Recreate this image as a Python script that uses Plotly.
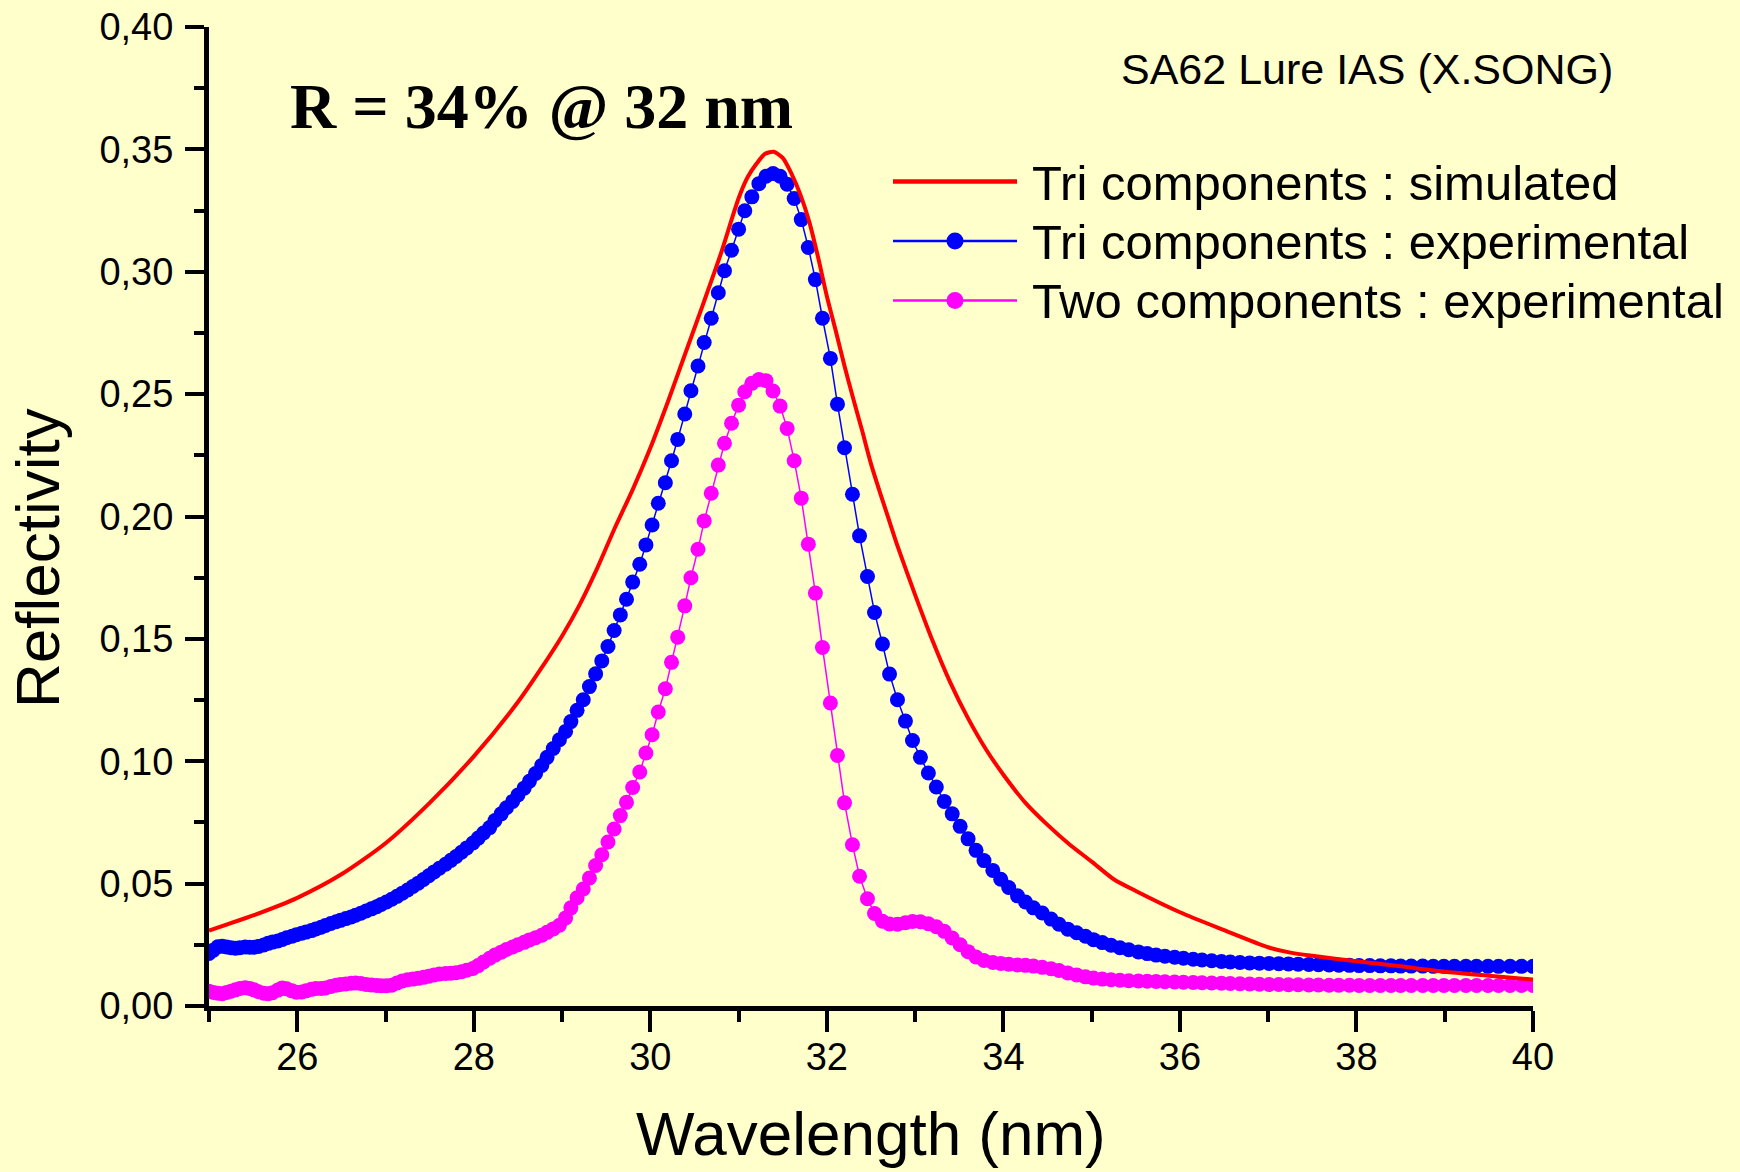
import plotly.graph_objects as go

# ---------------- data ----------------
# measured wavelengths (nm) of the experimental points
wavelength_nm = [
    25.00, 25.05, 25.10, 25.15, 25.20, 25.25, 25.30, 25.35, 25.41, 25.46,
    25.51, 25.56, 25.62, 25.67, 25.72, 25.78, 25.83, 25.88, 25.94, 25.99,
    26.05, 26.10, 26.16, 26.21, 26.27, 26.32, 26.38, 26.44, 26.49, 26.55,
    26.61, 26.66, 26.72, 26.78, 26.84, 26.90, 26.95, 27.01, 27.07, 27.13,
    27.19, 27.25, 27.31, 27.37, 27.43, 27.49, 27.55, 27.61, 27.68, 27.74,
    27.80, 27.86, 27.92, 27.99, 28.05, 28.11, 28.18, 28.24, 28.31, 28.37,
    28.44, 28.50, 28.57, 28.63, 28.70, 28.77, 28.83, 28.90, 28.97, 29.04,
    29.10, 29.17, 29.24, 29.31, 29.38, 29.45, 29.52, 29.59, 29.66, 29.73,
    29.80, 29.88, 29.95, 30.02, 30.09, 30.17, 30.24, 30.31, 30.39, 30.46,
    30.54, 30.61, 30.69, 30.77, 30.84, 30.92, 31.00, 31.07, 31.15, 31.23,
    31.31, 31.39, 31.47, 31.55, 31.63, 31.71, 31.79, 31.87, 31.95, 32.04,
    32.12, 32.20, 32.29, 32.37, 32.46, 32.54, 32.63, 32.71, 32.80, 32.89,
    32.97, 33.06, 33.15, 33.24, 33.33, 33.42, 33.51, 33.60, 33.69, 33.78,
    33.88, 33.97, 34.06, 34.16, 34.25, 34.34, 34.44, 34.54, 34.63, 34.73,
    34.83, 34.93, 35.02, 35.12, 35.22, 35.32, 35.42, 35.53, 35.63, 35.73,
    35.83, 35.94, 36.04, 36.15, 36.25, 36.36, 36.47, 36.57, 36.68, 36.79,
    36.90, 37.01, 37.12, 37.23, 37.34, 37.46, 37.57, 37.69, 37.80, 37.92,
    38.03, 38.15, 38.27, 38.39, 38.50, 38.62, 38.75, 38.87, 38.99, 39.11,
    39.24, 39.36, 39.49, 39.61, 39.74, 39.87, 40.00,
]

tri_experimental = [
    0.0215, 0.0228, 0.0242, 0.0244, 0.0241, 0.0238, 0.0236, 0.0238, 0.0241, 0.0240,
    0.0240, 0.0243, 0.0249, 0.0256, 0.0261, 0.0266, 0.0272, 0.0279, 0.0285, 0.0291,
    0.0297, 0.0302, 0.0308, 0.0315, 0.0322, 0.0329, 0.0337, 0.0344, 0.0350, 0.0357,
    0.0364, 0.0371, 0.0379, 0.0388, 0.0397, 0.0406, 0.0415, 0.0425, 0.0436, 0.0448,
    0.0461, 0.0474, 0.0488, 0.0502, 0.0517, 0.0532, 0.0548, 0.0563, 0.0579, 0.0595,
    0.0611, 0.0628, 0.0646, 0.0666, 0.0686, 0.0707, 0.0729, 0.0758, 0.0785, 0.0810,
    0.0836, 0.0862, 0.0890, 0.0918, 0.0950, 0.0983, 0.1016, 0.1052, 0.1088, 0.1122,
    0.1162, 0.1208, 0.1251, 0.1305, 0.1357, 0.1410, 0.1469, 0.1534, 0.1598, 0.1662,
    0.1732, 0.1805, 0.1884, 0.1965, 0.2054, 0.2138, 0.2228, 0.2315, 0.2419, 0.2514,
    0.2615, 0.2711, 0.2810, 0.2914, 0.3004, 0.3088, 0.3174, 0.3249, 0.3306, 0.3360,
    0.3390, 0.3401, 0.3390, 0.3358, 0.3299, 0.3213, 0.3099, 0.2968, 0.2810, 0.2646,
    0.2459, 0.2281, 0.2091, 0.1921, 0.1755, 0.1608, 0.1479, 0.1356, 0.1251, 0.1164,
    0.1085, 0.1016, 0.0952, 0.0895, 0.0836, 0.0785, 0.0734, 0.0683, 0.0636, 0.0594,
    0.0554, 0.0518, 0.0484, 0.0450, 0.0425, 0.0401, 0.0380, 0.0355, 0.0334, 0.0314,
    0.0299, 0.0285, 0.0271, 0.0259, 0.0248, 0.0238, 0.0230, 0.0221, 0.0214, 0.0208,
    0.0203, 0.0199, 0.0195, 0.0191, 0.0188, 0.0185, 0.0182, 0.0180, 0.0178, 0.0176,
    0.0175, 0.0174, 0.0173, 0.0172, 0.0171, 0.0170, 0.0169, 0.0168, 0.0167, 0.0166,
    0.0165, 0.0165, 0.0164, 0.0164, 0.0163, 0.0163, 0.0163, 0.0162, 0.0162, 0.0162,
    0.0162, 0.0162, 0.0162, 0.0162, 0.0162, 0.0162, 0.0162,
]

two_experimental = [
    0.0060, 0.0055, 0.0052, 0.0050, 0.0055, 0.0060, 0.0066, 0.0072, 0.0075, 0.0072,
    0.0066, 0.0058, 0.0052, 0.0050, 0.0054, 0.0065, 0.0074, 0.0070, 0.0062, 0.0056,
    0.0057, 0.0062, 0.0068, 0.0072, 0.0072, 0.0074, 0.0080, 0.0085, 0.0088, 0.0090,
    0.0093, 0.0094, 0.0092, 0.0088, 0.0086, 0.0084, 0.0083, 0.0083, 0.0085, 0.0094,
    0.0102, 0.0107, 0.0110, 0.0113, 0.0117, 0.0122, 0.0127, 0.0131, 0.0133, 0.0134,
    0.0136, 0.0140, 0.0146, 0.0153, 0.0165, 0.0180, 0.0195, 0.0208, 0.0220, 0.0231,
    0.0241, 0.0250, 0.0260, 0.0270, 0.0279, 0.0289, 0.0301, 0.0315, 0.0330, 0.0360,
    0.0401, 0.0442, 0.0478, 0.0523, 0.0574, 0.0618, 0.0670, 0.0723, 0.0778, 0.0832,
    0.0893, 0.0956, 0.1034, 0.1108, 0.1201, 0.1296, 0.1404, 0.1507, 0.1635, 0.1750,
    0.1866, 0.1982, 0.2095, 0.2210, 0.2299, 0.2381, 0.2455, 0.2510, 0.2544, 0.2560,
    0.2555, 0.2513, 0.2451, 0.2360, 0.2228, 0.2075, 0.1887, 0.1687, 0.1465, 0.1238,
    0.1024, 0.0830, 0.0659, 0.0530, 0.0438, 0.0378, 0.0346, 0.0335, 0.0334, 0.0340,
    0.0345, 0.0344, 0.0336, 0.0324, 0.0305, 0.0278, 0.0250, 0.0222, 0.0200, 0.0186,
    0.0178, 0.0174, 0.0171, 0.0168, 0.0166, 0.0163, 0.0158, 0.0152, 0.0145, 0.0135,
    0.0127, 0.0119, 0.0114, 0.0110, 0.0107, 0.0105, 0.0103, 0.0102, 0.0101, 0.0100,
    0.0099, 0.0098, 0.0097, 0.0096, 0.0095, 0.0094, 0.0093, 0.0092, 0.0091, 0.0090,
    0.0089, 0.0088, 0.0088, 0.0087, 0.0087, 0.0086, 0.0086, 0.0085, 0.0085, 0.0085,
    0.0084, 0.0084, 0.0084, 0.0084, 0.0084, 0.0084, 0.0084, 0.0084, 0.0084, 0.0084,
    0.0084, 0.0084, 0.0084, 0.0084, 0.0084, 0.0084, 0.0084,
]

sim_wavelength_nm = [
    25.0, 25.5, 26.0, 26.5, 27.0, 27.5, 28.0, 28.5, 28.75, 29.0,
    29.2, 29.4, 29.6, 29.8, 30.0, 30.2, 30.4, 30.6, 30.8, 31.0,
    31.1, 31.2, 31.3, 31.4, 31.5, 31.6, 31.7, 31.8, 31.9, 32.0,
    32.1, 32.2, 32.3, 32.4, 32.5, 32.6, 32.7, 32.8, 33.0, 33.2,
    33.4, 33.6, 33.8, 34.0, 34.25, 34.5, 34.75, 35.0, 35.25, 35.5,
    36.0, 36.5, 37.0, 37.25, 37.5, 38.0, 38.5, 39.0, 39.5, 40.0,
]
tri_simulated = [
    0.0308, 0.0370, 0.0442, 0.0538, 0.0665, 0.0830, 0.1020, 0.1242, 0.1372, 0.1512,
    0.1640, 0.1790, 0.1955, 0.2110, 0.2280, 0.2470, 0.2670, 0.2870, 0.3075, 0.3300,
    0.3385, 0.3440, 0.3482, 0.3490, 0.3465, 0.3400, 0.3315, 0.3205, 0.3060, 0.2900,
    0.2760, 0.2615, 0.2480, 0.2350, 0.2215, 0.2100, 0.1990, 0.1880, 0.1680, 0.1490,
    0.1320, 0.1175, 0.1050, 0.0945, 0.0830, 0.0740, 0.0660, 0.0590, 0.0518, 0.0470,
    0.0383, 0.0310, 0.0240, 0.0218, 0.0205, 0.0183, 0.0162, 0.0140, 0.0124, 0.0108,
]

series_names = [
    "Tri components : simulated",
    "Tri components : experimental",
    "Two components : experimental",
]
x_tick_values = [26, 28, 30, 32, 34, 36, 38, 40]
y_tick_values = [0.00, 0.05, 0.10, 0.15, 0.20, 0.25, 0.30, 0.35, 0.40]

# ---------------- styling ----------------
BG = "#FFFFCC"
SANS = "Liberation Sans, Arial, sans-serif"
SERIF = "Liberation Serif, Times New Roman, serif"
RED, BLUE, MAGENTA = "#FF0000", "#0000FF", "#FF00FF"

W, H = 1740, 1172
ML, MR, MT, MB = 209, 207, 27, 166
PW, PH = W - ML - MR, H - MT - MB


def px(xp):
    return (xp - ML) / PW


def py(yp):
    return (H - MB - yp) / PH


fig = go.Figure()

fig.add_trace(go.Scatter(
    x=wavelength_nm, y=two_experimental, mode="lines+markers",
    name=series_names[2], line=dict(color=MAGENTA, width=1.5),
    marker=dict(color=MAGENTA, size=15, line=dict(width=0)), showlegend=False))
fig.add_trace(go.Scatter(
    x=wavelength_nm, y=tri_experimental, mode="lines+markers",
    name=series_names[1], line=dict(color=BLUE, width=1.5),
    marker=dict(color=BLUE, size=15, line=dict(width=0)), showlegend=False))
fig.add_trace(go.Scatter(
    x=sim_wavelength_nm, y=tri_simulated, mode="lines",
    name=series_names[0], line=dict(color=RED, width=4, shape="spline", smoothing=0.7),
    showlegend=False))

# ---------------- manual legend ----------------
shapes = []
annotations = []
legend_rows = [(181.5, RED, False, 4.5), (241, BLUE, True, 2.5), (300.5, MAGENTA, True, 2.5)]
for (yp, col, has_marker, lw), name in zip(legend_rows, series_names):
    shapes.append(dict(type="line", xref="paper", yref="paper",
                       x0=px(893), x1=px(1017), y0=py(yp), y1=py(yp),
                       line=dict(color=col, width=lw)))
    if has_marker:
        shapes.append(dict(type="circle", xref="paper", yref="paper",
                           xsizemode="pixel", ysizemode="pixel",
                           xanchor=px(955), yanchor=py(yp),
                           x0=-8.5, x1=8.5, y0=-8.5, y1=8.5,
                           fillcolor=col, line=dict(color=col, width=0)))
    annotations.append(dict(text=name, xref="paper", yref="paper",
                            x=px(1030), y=py(yp + 1), xanchor="left", yanchor="middle",
                            showarrow=False, font=dict(family=SANS, size=49, color="black")))

annotations += [
    dict(text="<b>R = 34% @ 32 nm</b>", xref="paper", yref="paper",
         x=px(541), y=py(106), xanchor="center", yanchor="middle", showarrow=False,
         font=dict(family=SERIF, size=64, color="black")),
    dict(text="SA62 Lure IAS (X.SONG)", xref="paper", yref="paper",
         x=px(1367), y=py(69), xanchor="center", yanchor="middle", showarrow=False,
         font=dict(family=SANS, size=43, color="black")),
    dict(text="Reflectivity", xref="paper", yref="paper", textangle=-90,
         x=px(37), y=py(558), xanchor="center", yanchor="middle", showarrow=False,
         font=dict(family=SANS, size=62, color="black")),
    dict(text="Wavelength (nm)", xref="paper", yref="paper",
         x=px(871), y=py(1133), xanchor="center", yanchor="middle", showarrow=False,
         font=dict(family=SANS, size=62, color="black")),
]

fig.update_layout(
    width=W, height=H,
    margin=dict(l=ML, r=MR, t=MT, b=MB, pad=0, autoexpand=False),
    paper_bgcolor=BG, plot_bgcolor=BG,
    separators=", ",
    showlegend=False,
    shapes=shapes,
    annotations=annotations,
    xaxis=dict(
        range=[25, 40], tickmode="array", tickvals=x_tick_values,
        automargin=False,
        ticks="outside", ticklen=21, tickwidth=4, tickcolor="black",
        showline=True, linewidth=5, linecolor="black",
        showgrid=False, zeroline=False,
        tickfont=dict(family=SANS, size=38, color="black"),
        ticklabelstandoff=-8,
        minor=dict(tickmode="linear", tick0=25, dtick=1, ticks="outside",
                   ticklen=11, tickwidth=4, tickcolor="black", showgrid=False),
    ),
    yaxis=dict(
        range=[0, 0.40], tickmode="array", tickvals=y_tick_values,
        automargin=False,
        tickformat=".2f",
        ticks="outside", ticklen=19, tickwidth=4, tickcolor="black",
        showline=True, linewidth=5, linecolor="black",
        showgrid=False, zeroline=False,
        tickfont=dict(family=SANS, size=38, color="black"),
        ticklabelstandoff=4,
        minor=dict(tickmode="linear", tick0=0, dtick=0.025, ticks="outside",
                   ticklen=10, tickwidth=4, tickcolor="black", showgrid=False),
    ),
)

fig.write_html("out.html")
